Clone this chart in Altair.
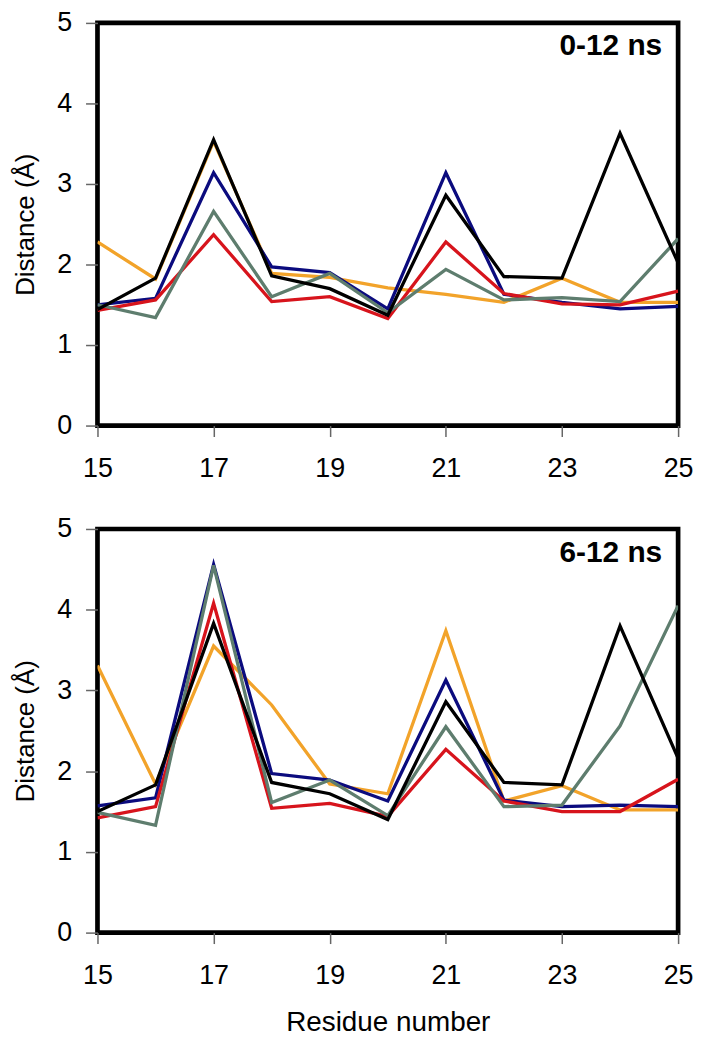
import altair as alt
import pandas as pd

residues = [15, 16, 17, 18, 19, 20, 21, 22, 23, 24, 25]
x_ticks = [15, 17, 19, 21, 23, 25]
y_ticks = [0, 1, 2, 3, 4, 5]

series_names = ["orange", "blue", "red", "green", "black"]
series_colors = ["#F2A32A", "#0B0B7E", "#D7141C", "#5E7D6E", "#000000"]

# Panel 1: 0-12 ns
p1_orange = [2.28, 1.82, 3.53, 1.89, 1.84, 1.71, 1.63, 1.53, 1.83, 1.53, 1.53]
p1_blue   = [1.50, 1.58, 3.14, 1.97, 1.90, 1.45, 3.14, 1.63, 1.53, 1.45, 1.48]
p1_red    = [1.43, 1.56, 2.37, 1.54, 1.60, 1.33, 2.28, 1.64, 1.51, 1.50, 1.67]
p1_green  = [1.50, 1.34, 2.66, 1.60, 1.89, 1.40, 1.94, 1.56, 1.59, 1.54, 2.32]
p1_black  = [1.44, 1.83, 3.55, 1.86, 1.70, 1.37, 2.86, 1.85, 1.83, 3.63, 2.02]

# Panel 2: 6-12 ns
p2_orange = [3.31, 1.84, 3.55, 2.82, 1.84, 1.72, 3.74, 1.63, 1.82, 1.52, 1.52]
p2_blue   = [1.57, 1.67, 4.56, 1.97, 1.89, 1.63, 3.13, 1.64, 1.56, 1.58, 1.56]
p2_red    = [1.42, 1.56, 4.08, 1.54, 1.60, 1.44, 2.27, 1.63, 1.50, 1.50, 1.90]
p2_green  = [1.49, 1.33, 4.55, 1.61, 1.89, 1.45, 2.55, 1.56, 1.58, 2.56, 4.05]
p2_black  = [1.50, 1.83, 3.83, 1.86, 1.72, 1.40, 2.86, 1.86, 1.83, 3.80, 2.16]

panel_titles = ["0-12 ns", "6-12 ns"]
panel_series = [
    [p1_orange, p1_blue, p1_red, p1_green, p1_black],
    [p2_orange, p2_blue, p2_red, p2_green, p2_black],
]

FONT = "Liberation Sans"
W, H1, H2 = 584, 405, 406


def make_panel(series_list, title, height, show_x_title, label_y):
    layers = []
    for name, color, vals in zip(series_names, series_colors, series_list):
        df = pd.DataFrame({"Residue": residues, "Distance": vals, "series": name})
        layers.append(
            alt.Chart(df).mark_line(strokeWidth=3.3, color=color, clip=True).encode(
                x=alt.X(
                    "Residue:Q",
                    scale=alt.Scale(domain=[15, 25], nice=False, zero=False),
                    axis=alt.Axis(
                        values=x_ticks,
                        title="Residue number" if show_x_title else None,
                        grid=False,
                        domain=False,
                        tickSize=11,
                        tickColor="#666666",
                        tickWidth=1.5,
                        labelPadding=19.5,
                        labelFontSize=27,
                        labelFont=FONT,
                        labelColor="#000000",
                        titleFont=FONT,
                        titleFontSize=28,
                        titleFontWeight="normal",
                        titleColor="#000000",
                        titlePadding=20,
                        labelFlush=False,
                    ),
                ),
                y=alt.Y(
                    "Distance:Q",
                    scale=alt.Scale(domain=[0, 5], nice=False),
                    axis=alt.Axis(
                        values=y_ticks,
                        title="Distance (Å)",
                        grid=False,
                        domain=False,
                        tickSize=12,
                        tickColor="#666666",
                        tickWidth=1.5,
                        labelPadding=14,
                        labelFontSize=27,
                        labelFont=FONT,
                        labelColor="#000000",
                        titleFont=FONT,
                        titleFontSize=26,
                        titleFontWeight="normal",
                        titleColor="#000000",
                        titlePadding=18,
                        labelFlush=False,
                    ),
                ),
            )
        )
    label_df = pd.DataFrame({"label": [title]})
    layers.append(
        alt.Chart(label_df).mark_text(
            font=FONT, fontSize=30, fontWeight="bold", align="right",
            baseline="alphabetic", color="#000000",
        ).encode(x=alt.value(W - 16), y=alt.value(label_y), text="label:N")
    )
    return alt.layer(*layers).properties(width=W, height=height)


top = make_panel(panel_series[0], panel_titles[0], H1, False, 32)
bottom = make_panel(panel_series[1], panel_titles[1], H2, True, 33)

chart = (
    alt.vconcat(top, bottom, spacing=28)
    .properties(padding={"left": 2, "top": -5, "right": 0, "bottom": -5}, background="#FFFFFF")
    .configure_view(stroke="#000000", strokeWidth=4.7, fill="#FFFFFF")
)

chart.save("out.html", embed_options={"renderer": "svg", "actions": False})
